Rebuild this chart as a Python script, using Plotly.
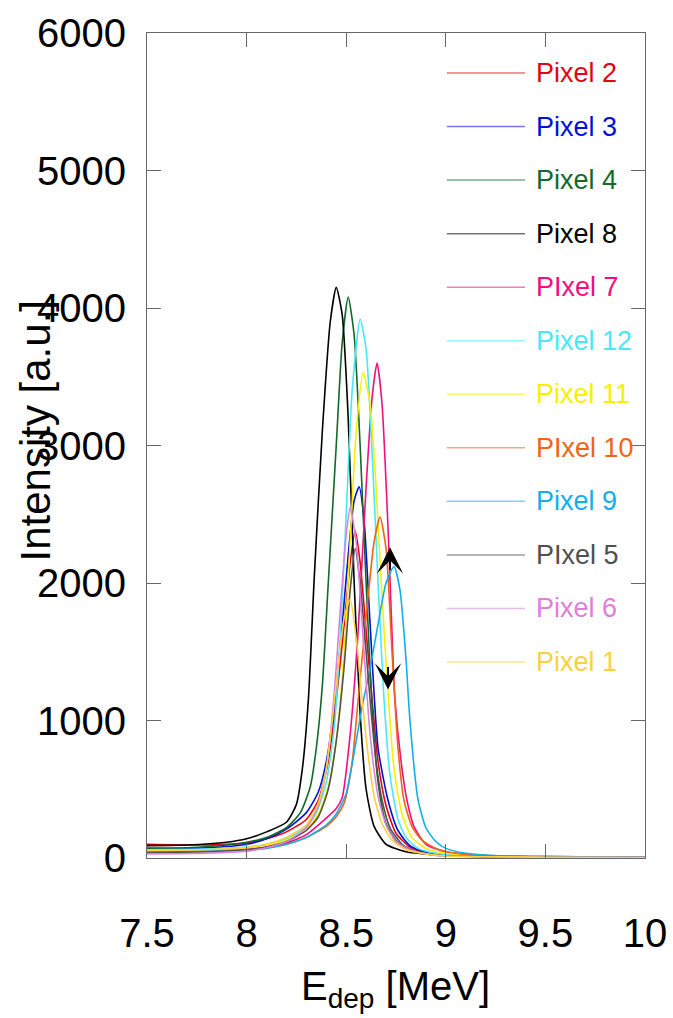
import plotly.graph_objects as go

px2_e = [7.5, 7.8, 8.0, 8.1, 8.2, 8.3, 8.36, 8.41, 8.45, 8.49, 8.52, 8.545, 8.57, 8.6, 8.63, 8.66, 8.7, 8.75, 8.82, 8.9, 9.0, 9.5, 10.0]
px2_i = [100, 95, 110, 140, 190, 280, 420, 700, 1150, 1700, 2150, 2380, 2150, 1650, 1150, 700, 380, 180, 80, 35, 18, 8, 4]

px3_e = [7.5, 7.8, 8.0, 8.1, 8.2, 8.3, 8.36, 8.4, 8.44, 8.48, 8.51, 8.54, 8.565, 8.59, 8.62, 8.66, 8.71, 8.76, 8.82, 8.9, 9.0, 9.2, 9.5, 10.0]
px3_i = [70, 75, 100, 140, 210, 330, 480, 700, 1100, 1700, 2200, 2600, 2700, 2450, 1700, 800, 420, 200, 90, 40, 20, 10, 6, 3]

px4_e = [7.5, 7.7, 7.9, 8.0, 8.1, 8.2, 8.27, 8.32, 8.35, 8.38, 8.41, 8.45, 8.48, 8.51, 8.54, 8.57, 8.6, 8.63, 8.66, 8.7, 8.76, 8.85, 9.0, 9.5, 10.0]
px4_i = [70, 75, 95, 115, 150, 220, 330, 520, 800, 1250, 2000, 3000, 3750, 4080, 3800, 3000, 2000, 1100, 550, 250, 110, 45, 20, 8, 4]

px8_e = [7.5, 7.7, 7.9, 8.0, 8.1, 8.2, 8.25, 8.28, 8.31, 8.34, 8.38, 8.42, 8.45, 8.48, 8.51, 8.54, 8.57, 8.6, 8.64, 8.7, 8.8, 9.0, 9.5, 10.0]
px8_i = [90, 95, 115, 140, 190, 260, 390, 650, 1150, 2050, 3100, 3900, 4150, 3950, 3200, 2000, 1050, 500, 230, 100, 45, 20, 10, 5]

px7_e = [7.5, 7.8, 8.0, 8.1, 8.2, 8.3, 8.4, 8.45, 8.48, 8.52, 8.56, 8.6, 8.63, 8.655, 8.68, 8.71, 8.745, 8.78, 8.805, 8.84, 8.9, 9.0, 9.2, 9.5, 10.0]
px7_i = [50, 55, 65, 80, 110, 170, 290, 360, 440, 900, 1650, 2700, 3350, 3600, 3300, 2400, 1150, 650, 420, 230, 100, 45, 18, 8, 4]

px12_e = [7.5, 7.8, 8.0, 8.1, 8.2, 8.3, 8.35, 8.4, 8.44, 8.47, 8.5, 8.53, 8.57, 8.6, 8.63, 8.66, 8.69, 8.72, 8.76, 8.8, 8.86, 8.95, 9.1, 9.5, 10.0]
px12_i = [60, 65, 80, 100, 140, 230, 330, 550, 950, 1600, 2500, 3400, 3920, 3700, 2950, 2000, 1150, 600, 280, 150, 70, 35, 15, 8, 4]

px11_e = [7.5, 7.8, 8.0, 8.1, 8.2, 8.3, 8.36, 8.41, 8.45, 8.49, 8.52, 8.55, 8.585, 8.62, 8.65, 8.68, 8.71, 8.74, 8.78, 8.83, 8.9, 9.0, 9.2, 9.5, 10.0]
px11_i = [55, 60, 75, 95, 130, 210, 320, 520, 850, 1500, 2300, 3100, 3530, 3300, 2700, 1900, 1200, 650, 320, 150, 70, 35, 15, 8, 4]

px10_e = [7.5, 7.8, 8.0, 8.1, 8.2, 8.3, 8.4, 8.45, 8.49, 8.53, 8.56, 8.6, 8.64, 8.67, 8.7, 8.73, 8.76, 8.79, 8.83, 8.88, 8.95, 9.05, 9.2, 9.5, 10.0]
px10_i = [45, 50, 60, 75, 100, 150, 230, 300, 400, 700, 1150, 1750, 2300, 2480, 2250, 1500, 800, 420, 230, 130, 70, 35, 15, 8, 4]

px9_e = [7.5, 7.8, 8.0, 8.1, 8.2, 8.3, 8.4, 8.45, 8.5, 8.55, 8.58, 8.62, 8.66, 8.7, 8.74, 8.77, 8.8, 8.82, 8.86, 8.9, 8.95, 9.0, 9.1, 9.3, 9.5, 10.0]
px9_i = [45, 50, 60, 70, 100, 150, 240, 320, 470, 850, 1100, 1380, 1700, 2000, 2120, 1950, 1450, 1000, 430, 220, 120, 70, 35, 15, 10, 5]

px5_e = [7.5, 7.8, 8.0, 8.1, 8.2, 8.3, 8.36, 8.41, 8.45, 8.49, 8.52, 8.545, 8.57, 8.6, 8.62, 8.65, 8.68, 8.72, 8.78, 8.85, 8.95, 9.2, 9.5, 10.0]
px5_i = [40, 45, 60, 80, 120, 200, 300, 500, 850, 1400, 1950, 2250, 2000, 1500, 1150, 700, 420, 220, 100, 45, 20, 10, 6, 3]

px6_e = [7.5, 7.8, 8.0, 8.1, 8.2, 8.3, 8.36, 8.4, 8.44, 8.47, 8.5, 8.52, 8.55, 8.58, 8.62, 8.66, 8.7, 8.75, 8.82, 8.9, 9.0, 9.5, 10.0]
px6_i = [30, 35, 50, 75, 120, 220, 380, 650, 1200, 1800, 2350, 2550, 2300, 1700, 900, 450, 240, 120, 60, 30, 15, 6, 3]

px1_e = [7.5, 7.8, 8.0, 8.1, 8.2, 8.3, 8.36, 8.4, 8.43, 8.46, 8.49, 8.52, 8.55, 8.58, 8.61, 8.64, 8.68, 8.73, 8.8, 8.9, 9.0, 9.5, 10.0]
px1_i = [55, 60, 75, 100, 150, 240, 400, 650, 1000, 1400, 1750, 1880, 1600, 1150, 750, 450, 250, 130, 60, 30, 15, 6, 3]

labels = ["Pixel 2", "Pixel 3", "Pixel 4", "Pixel 8", "PIxel 7", "Pixel 12",
          "Pixel 11", "PIxel 10", "Pixel 9", "PIxel 5", "Pixel 6", "Pixel 1"]
colors = ["#e60012", "#0010d8", "#12692a", "#000000", "#f0107f", "#48e8f8",
          "#f8f000", "#f06418", "#12aeea", "#505050", "#dc80dc", "#fcd040"]
energies = [px2_e, px3_e, px4_e, px8_e, px7_e, px12_e, px11_e, px10_e, px9_e, px5_e, px6_e, px1_e]
intensities = [px2_i, px3_i, px4_i, px8_i, px7_i, px12_i, px11_i, px10_i, px9_i, px5_i, px6_i, px1_i]

# Arrowhead tips beside the Pixel 9 peak (up and down)
arrow_e = [8.72, 8.71]
arrow_i = [2260, 1225]
arrow_dir = [1, -1]

x_ticks = [7.5, 8, 8.5, 9, 9.5, 10]
y_ticks = [0, 1000, 2000, 3000, 4000, 5000, 6000]

FONT = "Liberation Sans, Arial, sans-serif"

fig = go.Figure()
for name, col, e, inten in zip(labels, colors, energies, intensities):
    fig.add_trace(go.Scatter(x=e, y=inten, mode="lines", name=name,
                             line=dict(color=col, width=1.6, shape="spline", smoothing=0.6),
                             showlegend=False))

for ae, ai, d in zip(arrow_e, arrow_i, arrow_dir):
    fig.add_annotation(x=ae, y=ai, xref="x", yref="y", text="", showarrow=True,
                       arrowhead=3, arrowsize=2.2, arrowwidth=2, arrowcolor="black",
                       ax=0, ay=24 * d, axref="pixel", ayref="pixel")

# Hand-built legend: faint line sample plus coloured label
leg_top = 0.9515
leg_step = 0.0649
for k, (name, col) in enumerate(zip(labels, colors)):
    yy = leg_top - k * leg_step
    fig.add_shape(type="line", xref="paper", yref="paper", x0=0.602, x1=0.759,
                  y0=yy, y1=yy, line=dict(color=col, width=1.5), opacity=0.55)
    fig.add_annotation(xref="paper", yref="paper", x=0.777, y=yy, text=name,
                       showarrow=False, xanchor="left", yanchor="middle",
                       font=dict(size=27, color=col, family=FONT))

# Axis titles
fig.add_annotation(xref="paper", yref="paper", x=0, y=0.5, xshift=-112, yshift=14,
                   text="Intensity [a.u.]", textangle=-90, showarrow=False,
                   xanchor="center", yanchor="middle",
                   font=dict(size=42, color="black", family=FONT))
fig.add_annotation(xref="paper", yref="paper", x=0.498, y=0, yshift=-131,
                   text="E<sub>dep</sub> [MeV]", showarrow=False,
                   xanchor="center", yanchor="middle",
                   font=dict(size=40, color="black", family=FONT))

axis_common = dict(showgrid=False, zeroline=False, showline=True, linecolor="#666666",
                   linewidth=1, mirror="ticks", ticks="inside", ticklen=14,
                   tickcolor="#666666", tickwidth=1,
                   tickfont=dict(size=40, color="black", family=FONT))

fig.update_xaxes(range=[7.5, 10], tickvals=x_ticks, ticktext=[str(v) for v in x_ticks],
                 ticklabelstandoff=40, **axis_common)
fig.update_yaxes(range=[0, 6000], tickvals=y_ticks, ticktext=[str(v) for v in y_ticks],
                 ticklabelstandoff=12, **axis_common)

fig.update_layout(width=673, height=1018, margin=dict(l=147, r=28, t=33, b=160, autoexpand=False),
                  plot_bgcolor="white", paper_bgcolor="white",
                  font=dict(family=FONT))

fig.write_html("out.html")
